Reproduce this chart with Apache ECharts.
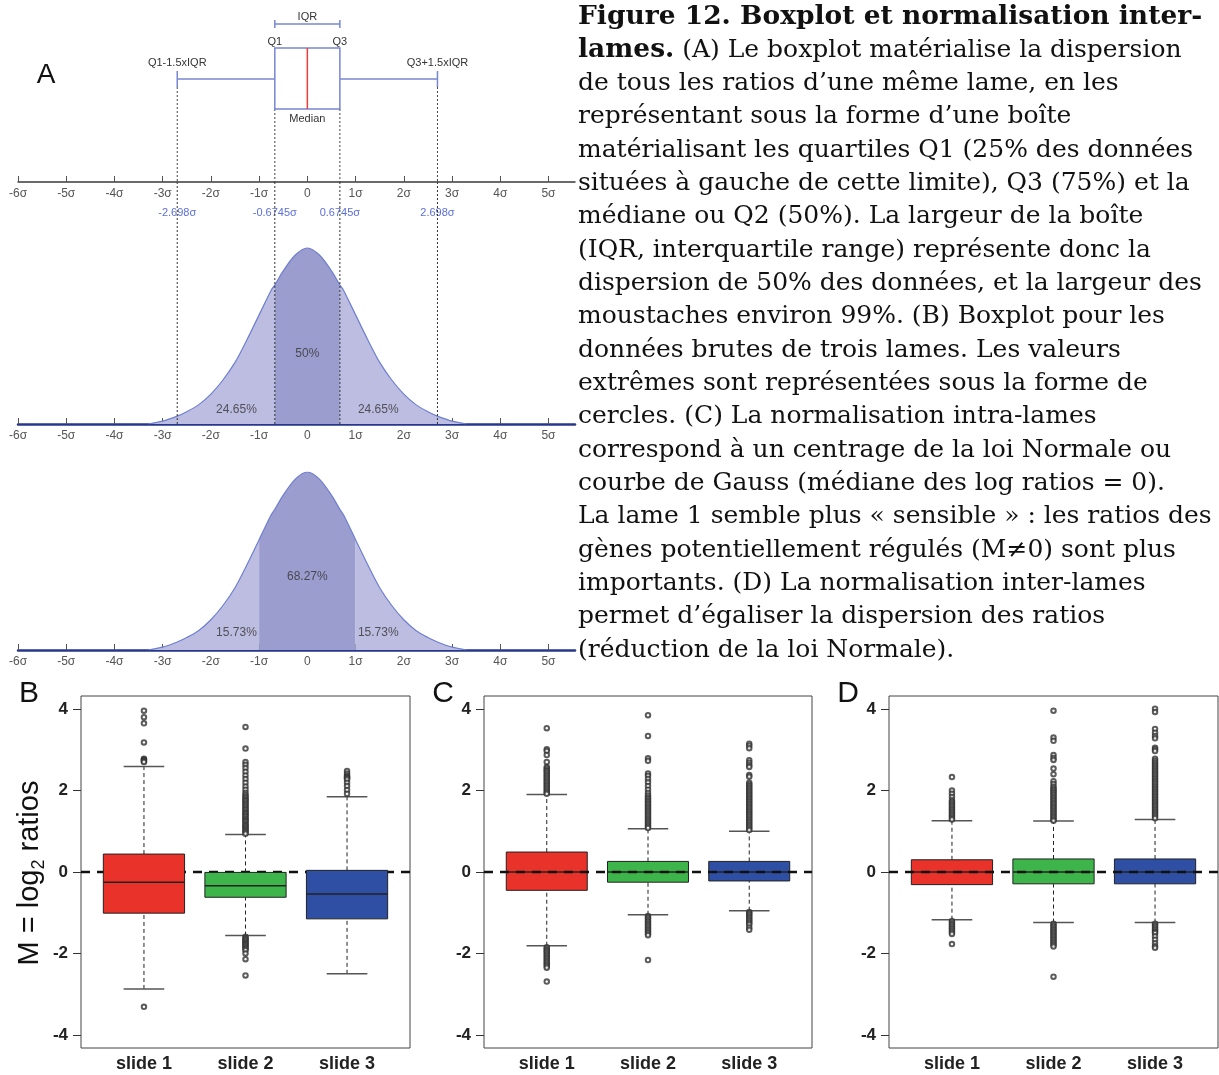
<!DOCTYPE html>
<html>
<head>
<meta charset="utf-8">
<script src="https://cdn.jsdelivr.net/npm/echarts@6/dist/echarts.min.js"></script>
<style>
html, body { margin: 0; padding: 0; background: #fff; }
#main { width: 1219px; height: 1075px; }
</style>
</head>
<body>
<div id="main"></div>
<script>
// ---- données panneau A (unités : sigma) ----
var sigmaTicks = [-6, -5, -4, -3, -2, -1, 0, 1, 2, 3, 4, 5];
var boxA = [-2.698, -0.6745, 0, 0.6745, 2.698];          // Q1-1.5xIQR, Q1, médiane, Q3, Q3+1.5xIQR
var boxALabels = ['-2.698σ', '-0.6745σ', '0.6745σ', '2.698σ'];
var gaussX = [-3.3, -3, -2.698, -2.5, -2.25, -2, -1.75, -1.5, -1.25, -1, -0.75, -0.6745, -0.5, -0.25, 0,
              0.25, 0.5, 0.6745, 0.75, 1, 1.25, 1.5, 1.75, 2, 2.25, 2.5, 2.698, 3, 3.3];
var gaussY = [0, 0.016, 0.045, 0.07, 0.11, 0.17, 0.25, 0.35, 0.48, 0.62, 0.76, 0.79, 0.87, 0.96, 1,
              0.96, 0.87, 0.79, 0.76, 0.62, 0.48, 0.35, 0.25, 0.17, 0.11, 0.07, 0.045, 0.016, 0];
var splitTop = [-0.6745, 0.6745];
var splitBottom = [-1, 1];
var pctTop = ['24.65%', '50%', '24.65%'];
var pctBottom = ['15.73%', '68.27%', '15.73%'];

// ---- données panneaux B, C, D ----
var slides = ['slide 1', 'slide 2', 'slide 3'];
var yTicks = [-4, -2, 0, 2, 4];
// [moustache basse, Q1, médiane, Q3, moustache haute]
var statsB = [[-2.87, -1.01, -0.25, 0.44, 2.59], [-1.56, -0.62, -0.34, -0.01, 0.92], [-2.50, -1.15, -0.54, 0.04, 1.85]];
var statsC = [[-1.81, -0.45, 0, 0.49, 1.90], [-1.05, -0.25, 0, 0.26, 1.06], [-0.95, -0.22, 0, 0.26, 1.00]];
var statsD = [[-1.17, -0.31, 0, 0.30, 1.26], [-1.24, -0.29, 0, 0.32, 1.25], [-1.24, -0.29, 0, 0.32, 1.29]];

var outB1 = [3.96, 3.80, 3.65, 3.18, 2.78, 2.76, 2.74, 2.72, 2.70, -3.31];
var outB2 = [3.56, 3.03, 2.70, 2.63, 2.55, 2.46, 2.37, 2.28, 2.19, 2.10, 2.02, 1.94, 1.89, 1.85, 1.81, 1.77, 1.74,
             1.70, 1.66, 1.63, 1.59, 1.55, 1.52, 1.48, 1.45, 1.42, 1.38, 1.35, 1.31, 1.28, 1.25, 1.22, 1.18, 1.15,
             1.12, 1.09, 1.06, 1.03, 1.00, 0.97, 0.94,
             -1.59, -1.62, -1.65, -1.68, -1.71, -1.74, -1.77, -1.80, -1.83, -1.86, -1.89, -1.92, -2.00, -2.14, -2.54];
var outB3 = [2.48, 2.42, 2.37, 2.34, 2.32, 2.30, 2.27, 2.19, 2.11, 2.01, 1.92];

var outC1 = [3.53, 3.01, 2.97, 2.87, 2.70, 2.58, 2.54, 2.50, 2.47, 2.43, 2.39, 2.35, 2.31, 2.27, 2.23, 2.19, 2.15,
             2.11, 2.07, 2.03, 1.99, 1.95, 1.92,
             -1.85, -1.88, -1.92, -1.95, -1.99, -2.03, -2.07, -2.11, -2.15, -2.19, -2.23, -2.27, -2.31, -2.35, -2.69];
var outC2 = [3.85, 3.34, 2.79, 2.73, 2.42, 2.36, 2.28, 2.20, 2.11, 2.02, 1.94, 1.88, 1.83, 1.79, 1.75, 1.71, 1.67,
             1.63, 1.59, 1.55, 1.51, 1.47, 1.43, 1.39, 1.35, 1.31, 1.27, 1.23, 1.19, 1.15, 1.11, 1.08,
             -1.08, -1.11, -1.15, -1.19, -1.23, -1.27, -1.31, -1.35, -1.39, -1.43, -1.47, -1.51, -1.55, -2.16];
var outC3 = [3.15, 3.10, 3.04, 2.74, 2.68, 2.62, 2.58, 2.38, 2.34, 2.19, 2.15, 2.11, 2.07, 2.03, 1.99, 1.95, 1.91,
             1.87, 1.83, 1.79, 1.75, 1.71, 1.67, 1.63, 1.59, 1.55, 1.51, 1.47, 1.43, 1.39, 1.35, 1.31, 1.27, 1.23,
             1.19, 1.15, 1.11, 1.07, 1.03,
             -0.98, -1.01, -1.05, -1.09, -1.13, -1.17, -1.21, -1.25, -1.29, -1.36, -1.42];

var outD1 = [2.33, 2.00, 1.92, 1.84, 1.76, 1.72, 1.68, 1.64, 1.60, 1.56, 1.52, 1.48, 1.44, 1.40, 1.36, 1.32, 1.29,
             -1.20, -1.24, -1.28, -1.32, -1.36, -1.40, -1.44, -1.48, -1.52, -1.77];
var outD2 = [3.96, 3.30, 3.22, 2.87, 2.80, 2.75, 2.54, 2.40, 2.23, 2.16, 2.09, 2.05, 2.01, 1.97, 1.93, 1.89, 1.85,
             1.81, 1.77, 1.73, 1.69, 1.65, 1.61, 1.57, 1.53, 1.49, 1.45, 1.41, 1.37, 1.33, 1.29, 1.26,
             -1.27, -1.31, -1.35, -1.39, -1.43, -1.47, -1.51, -1.55, -1.59, -1.63, -1.67, -1.71, -1.75, -1.79, -1.83, -2.57];
var outD3 = [4.01, 3.93, 3.51, 3.42, 3.34, 3.28, 3.05, 3.01, 2.97, 2.78, 2.73, 2.68, 2.64, 2.60, 2.56, 2.52, 2.48,
             2.44, 2.40, 2.36, 2.32, 2.28, 2.24, 2.20, 2.16, 2.12, 2.08, 2.04, 2.00, 1.96, 1.92, 1.88, 1.84, 1.80,
             1.76, 1.72, 1.68, 1.64, 1.60, 1.56, 1.52, 1.48, 1.44, 1.40, 1.36, 1.32,
             -1.27, -1.31, -1.35, -1.39, -1.43, -1.47, -1.50, -1.58, -1.66, -1.75, -1.82, -1.86];

var captionLines = [
    'Figure 12. Boxplot et normalisation inter-',
    '{b|lames.} (A) Le boxplot matérialise la dispersion',
    'de tous les ratios d’une même lame, en les',
    'représentant sous la forme d’une boîte',
    'matérialisant les quartiles Q1 (25% des données',
    'situées à gauche de cette limite), Q3 (75%) et la',
    'médiane ou Q2 (50%). La largeur de la boîte',
    '(IQR, interquartile range) représente donc la',
    'dispersion de 50% des données, et la largeur des',
    'moustaches environ 99%. (B) Boxplot pour les',
    'données brutes de trois lames. Les valeurs',
    'extrêmes sont représentées sous la forme de',
    'cercles. (C) La normalisation intra-lames',
    'correspond à un centrage de la loi Normale ou',
    'courbe de Gauss (médiane des log ratios = 0).',
    'La lame 1 semble plus « sensible » : les ratios des',
    'gènes potentiellement régulés (M≠0) sont plus',
    'importants. (D) La normalisation inter-lames',
    'permet d’égaliser la dispersion des ratios',
    '(réduction de la loi Normale).'
];

// ---- mise en page ----
var SIG_MIN = -6, SIG_MAX = 5.55;
var X_MIN = 0.38, X_MAX = 3.62;     // R : 0.5..3.5 étendu de 4 %
var Y_MIN = -4.32, Y_MAX = 4.32;
var A1_TOP = 1.375;                 // la grille A1 monte jusqu'au premier axe
var boxColors = ['#e8322a', '#3db54a', '#2f4fa5'];
var SANS = '"Liberation Sans", Arial, sans-serif';
var SERIF = '"DejaVu Serif", serif';
var lavender = '#bdbde2', lavenderDark = '#9c9dcf', curveColor = '#6d7fcf', navy = '#27378c';

var fig = echarts.init(document.getElementById('main'));

function sigmaAxis(idx, color, width) {
    return {
        gridIndex: idx, type: 'value', min: SIG_MIN, max: SIG_MAX, position: 'bottom',
        axisLine: { show: true, onZero: false, lineStyle: { color: color, width: width } },
        axisTick: { show: true, inside: true, length: 6, customValues: sigmaTicks, lineStyle: { color: '#555' } },
        axisLabel: {
            customValues: sigmaTicks, color: '#555', fontSize: 12, margin: 6, fontFamily: SANS,
            formatter: function (v) { return v === 0 ? '0' : v + 'σ'; }
        },
        splitLine: { show: false }
    };
}

function hiddenY(idx, min, max) {
    return { gridIndex: idx, type: 'value', min: min, max: max, show: false, splitLine: { show: false } };
}

function slideAxisX(idx) {
    return {
        gridIndex: idx, type: 'value', min: X_MIN, max: X_MAX,
        axisLine: { show: false }, splitLine: { show: false },
        axisTick: { show: true, length: 7, customValues: [1, 2, 3], lineStyle: { color: '#333' } },
        axisLabel: {
            customValues: [1, 2, 3], margin: 7, fontSize: 18, fontWeight: 'bold', color: '#222', fontFamily: SANS,
            formatter: function (v) { return slides[Math.round(v) - 1]; }
        }
    };
}

function slideAxisY(idx) {
    return {
        gridIndex: idx, type: 'value', min: Y_MIN, max: Y_MAX,
        axisLine: { show: false }, splitLine: { show: false },
        axisTick: { show: true, length: 8, customValues: yTicks, lineStyle: { color: '#333' } },
        axisLabel: { customValues: yTicks, margin: 13, fontSize: 17, fontWeight: 'bold', color: '#222', fontFamily: SANS }
    };
}

function txt(x, y, s, color, size) {
    return { type: 'text', x: x, y: y, style: { text: s, fill: color || '#333', font: (size || 11) + 'px ' + SANS, align: 'center', verticalAlign: 'middle' } };
}
function seg(x1, y1, x2, y2, style) {
    return { type: 'line', shape: { x1: x1, y1: y1, x2: x2, y2: y2 }, style: style };
}

// schéma du boxplot au-dessus du premier axe
function schematicItem(params, api) {
    var p = [];
    for (var i = 0; i < 5; i++) p.push(api.coord([api.value(i), 0])[0]);
    var ay = api.coord([0, 0])[1];
    var boxTop = ay - 134, boxBot = ay - 73, wy = ay - 103, iqrY = ay - 158;
    var blue = { stroke: '#7886d4', lineWidth: 1.5, fill: null };
    var dots = { stroke: '#444', lineWidth: 1, lineDash: [2, 2] };
    return {
        type: 'group', children: [
            seg(p[0], wy + 8, p[0], ay, dots), seg(p[4], wy + 8, p[4], ay, dots),
            seg(p[1], boxBot, p[1], ay, dots), seg(p[3], boxBot, p[3], ay, dots),
            { type: 'rect', shape: { x: p[1], y: boxTop, width: p[3] - p[1], height: boxBot - boxTop }, style: blue },
            seg(p[2], boxTop, p[2], boxBot, { stroke: '#ee3b3b', lineWidth: 1.5 }),
            seg(p[0], wy, p[1], wy, blue), seg(p[3], wy, p[4], wy, blue),
            seg(p[0], wy - 8, p[0], wy + 8, blue), seg(p[4], wy - 8, p[4], wy + 8, blue),
            seg(p[1], iqrY, p[3], iqrY, blue), seg(p[1], iqrY - 4, p[1], iqrY + 4, blue), seg(p[3], iqrY - 4, p[3], iqrY + 4, blue),
            txt(p[2], iqrY - 7, 'IQR'), txt(p[1], ay - 140, 'Q1'), txt(p[3], ay - 140, 'Q3'),
            txt(p[0], ay - 119, 'Q1-1.5xIQR'), txt(p[4], ay - 119, 'Q3+1.5xIQR'), txt(p[2], ay - 63, 'Median'),
            txt(p[0], ay + 31, boxALabels[0], '#5b6fd6'), txt(p[1], ay + 31, boxALabels[1], '#5b6fd6'),
            txt(p[3], ay + 31, boxALabels[2], '#5b6fd6'), txt(p[4], ay + 31, boxALabels[3], '#5b6fd6')
        ]
    };
}

// pointillés prolongés jusqu'à la base de la première courbe
function dropItem(params, api) {
    var top = api.coord([api.value(0), A1_TOP]);
    var bot = api.coord([api.value(0), 0]);
    return seg(top[0], top[1], bot[0], bot[1], { stroke: '#333', lineWidth: 1, lineDash: [2, 2] });
}

// boîte à moustaches façon R
function boxItem(params, api) {
    var x = api.value(0);
    var lo = api.coord([x, api.value(1)]), q1 = api.coord([x, api.value(2)]), md = api.coord([x, api.value(3)]);
    var q3 = api.coord([x, api.value(4)]), hi = api.coord([x, api.value(5)]);
    var half = api.size([0.8, 0])[0] / 2, cap = api.size([0.4, 0])[0] / 2;
    var dash = { stroke: '#222', lineWidth: 1, lineDash: [4, 3] };
    var capStyle = { stroke: '#555', lineWidth: 1.5 };
    return {
        type: 'group', children: [
            seg(lo[0], lo[1], q1[0], q1[1], dash), seg(q3[0], q3[1], hi[0], hi[1], dash),
            seg(lo[0] - cap, lo[1], lo[0] + cap, lo[1], capStyle), seg(hi[0] - cap, hi[1], hi[0] + cap, hi[1], capStyle),
            { type: 'rect', shape: { x: q3[0] - half, y: q3[1], width: 2 * half, height: q1[1] - q3[1] },
              style: { fill: boxColors[params.dataIndex], stroke: '#222', lineWidth: 1 } },
            seg(md[0] - half, md[1], md[0] + half, md[1], { stroke: '#222', lineWidth: 1.5 })
        ]
    };
}

function curvePart(idx, from, to, color) {
    var pts = [];
    for (var i = 0; i < gaussX.length; i++) {
        if (gaussX[i] >= from && gaussX[i] <= to) pts.push([gaussX[i], gaussY[i]]);
    }
    return {
        type: 'line', xAxisIndex: idx, yAxisIndex: idx, data: pts, smooth: 0.3, showSymbol: false, silent: true,
        lineStyle: { width: 0 }, areaStyle: { color: color, opacity: 1 }, z: 2
    };
}

function curveSeries(idx, split) {
    var all = gaussX.map(function (x, i) { return [x, gaussY[i]]; });
    return [
        curvePart(idx, -10, split[0], lavender),
        curvePart(idx, split[0], split[1], lavenderDark),
        curvePart(idx, split[1], 10, lavender),
        { type: 'line', xAxisIndex: idx, yAxisIndex: idx, data: all, smooth: 0.3, showSymbol: false, silent: true,
          lineStyle: { color: curveColor, width: 1.2 }, z: 3 }
    ];
}

function pctLabels(idx, names, yMid, ySide) {
    return {
        type: 'scatter', xAxisIndex: idx, yAxisIndex: idx, symbolSize: 1, silent: true, z: 6,
        itemStyle: { color: 'rgba(0,0,0,0)' },
        label: { show: true, position: 'inside', formatter: '{b}', color: '#333', fontSize: 12, fontFamily: SANS },
        data: [
            { name: names[0], value: [-1.47, ySide] },
            { name: names[1], value: [0, yMid] },
            { name: names[2], value: [1.47, ySide] }
        ]
    };
}

function panelSeries(idx, stats, outs, zeroOnTop) {
    var boxes = stats.map(function (s, i) { return [i + 1].concat(s); });
    var pts = [];
    outs.forEach(function (list, i) {
        list.forEach(function (v) { pts.push([i + 1, v]); });
    });
    return [
        { type: 'line', xAxisIndex: idx, yAxisIndex: idx, data: [[X_MIN, 0], [X_MAX, 0]], showSymbol: false, silent: true,
          lineStyle: { color: '#111', width: 2.5, type: [9, 7] }, z: zeroOnTop ? 8 : 1 },
        { type: 'custom', xAxisIndex: idx, yAxisIndex: idx, renderItem: boxItem, data: boxes, silent: true, z: 4 },
        { type: 'scatter', xAxisIndex: idx, yAxisIndex: idx, data: pts, symbol: 'emptyCircle', symbolSize: 4.5, silent: true,
          itemStyle: { color: '#333', borderWidth: 1 }, z: 5 }
    ];
}

var frame = { show: true, borderColor: '#444', borderWidth: 1, backgroundColor: '#fff' };

var series = [
    { type: 'custom', xAxisIndex: 0, yAxisIndex: 0, renderItem: schematicItem, data: [boxA], silent: true, z: 5 },
    { type: 'custom', xAxisIndex: 1, yAxisIndex: 1, renderItem: dropItem, silent: true, z: 5,
      data: [[boxA[0]], [boxA[1]], [boxA[3]], [boxA[4]]] }
].concat(
    curveSeries(1, splitTop), curveSeries(2, splitBottom),
    [pctLabels(1, pctTop, 0.40, 0.08), pctLabels(2, pctBottom, 0.41, 0.095)],
    panelSeries(3, statsB, [outB1, outB2, outB3], false),
    panelSeries(4, statsC, [outC1, outC2, outC3], true),
    panelSeries(5, statsD, [outD1, outD2, outD3], true)
);

var graphics = captionLines.map(function (line, i) {
    return {
        type: 'text', x: 578, y: 17 + 33.33 * i,
        style: {
            text: line, fill: '#111', verticalAlign: 'middle',
            font: (i === 0 ? 'bold 26.5px ' : '25px ') + SERIF,
            rich: { b: { fontWeight: 'bold', fontSize: 26.5, fontFamily: SERIF, fill: '#111' } }
        }
    };
});
graphics.push(
    { type: 'text', x: 46, y: 75, style: { text: 'A', font: '28px ' + SANS, fill: '#111', align: 'center', verticalAlign: 'middle' } },
    { type: 'text', x: 29, y: 694, style: { text: 'B', font: '30px ' + SANS, fill: '#111', align: 'center', verticalAlign: 'middle' } },
    { type: 'text', x: 443, y: 694, style: { text: 'C', font: '30px ' + SANS, fill: '#111', align: 'center', verticalAlign: 'middle' } },
    { type: 'text', x: 848, y: 694, style: { text: 'D', font: '30px ' + SANS, fill: '#111', align: 'center', verticalAlign: 'middle' } },
    { type: 'text', x: 32, y: 873, rotation: Math.PI / 2,
      style: {
          text: '{t|M = log}{s|2}{t| ratios}', align: 'center', verticalAlign: 'middle', fill: '#111',
          rich: {
              t: { fontSize: 29, lineHeight: 33, verticalAlign: 'top', fontFamily: SANS, fill: '#111' },
              s: { fontSize: 18, lineHeight: 18, verticalAlign: 'bottom', fontFamily: SANS, fill: '#111' }
          }
      } }
);

var option = {
    animation: false,
    backgroundColor: '#fff',
    textStyle: { fontFamily: SANS },
    grid: [
        { left: 18, top: 0, width: 557, height: 182 },
        { left: 18, top: 182, width: 557, height: 242 },
        { left: 18, top: 472, width: 557, height: 178 },
        Object.assign({ left: 81, top: 696, width: 329, height: 352 }, frame),
        Object.assign({ left: 484, top: 696, width: 328, height: 352 }, frame),
        Object.assign({ left: 889, top: 696, width: 329, height: 352 }, frame)
    ],
    xAxis: [
        sigmaAxis(0, '#3a3a3a', 1.5), sigmaAxis(1, navy, 2.5), sigmaAxis(2, navy, 2.5),
        slideAxisX(3), slideAxisX(4), slideAxisX(5)
    ],
    yAxis: [
        hiddenY(0, 0, 1), hiddenY(1, 0, A1_TOP), hiddenY(2, 0, 1),
        slideAxisY(3), slideAxisY(4), slideAxisY(5)
    ],
    series: series,
    graphic: graphics
};

fig.setOption(option);

window.onresize = function () {
    fig.resize();
};
</script>
</body>
</html>
